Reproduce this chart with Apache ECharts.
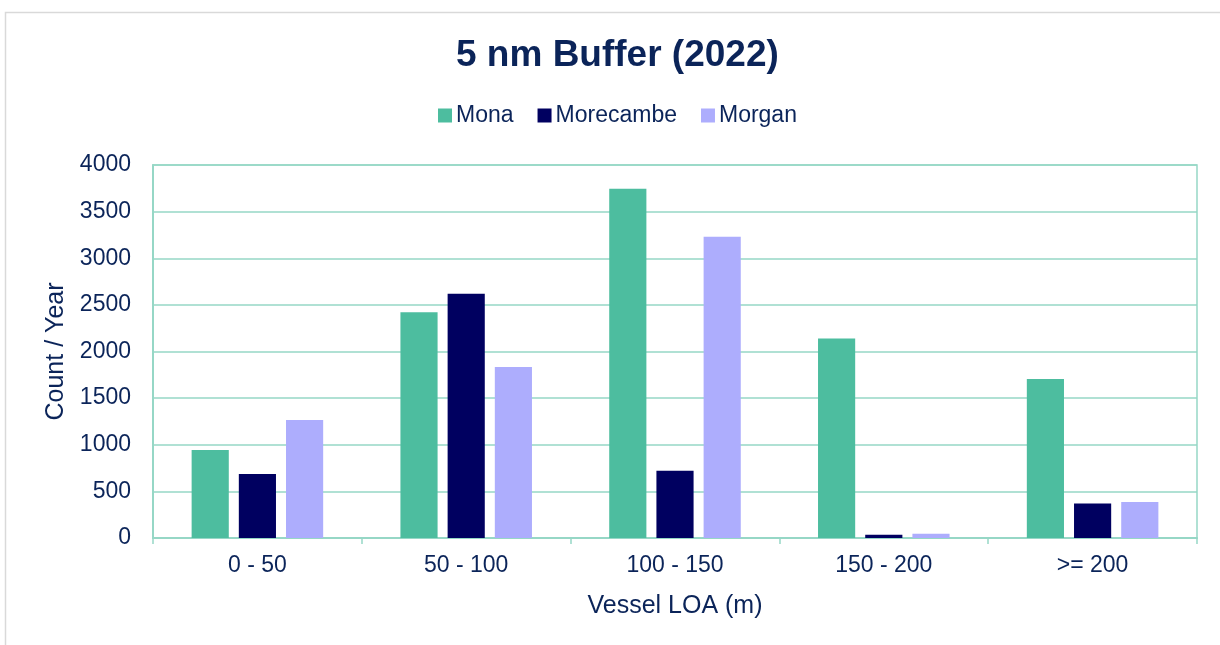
<!DOCTYPE html>
<html>
<head>
<meta charset="utf-8">
<title>5 nm Buffer (2022)</title>
<script src="https://cdn.jsdelivr.net/npm/echarts@6/dist/echarts.min.js"></script>
<style>
  html, body { margin: 0; padding: 0; background: #fff; }
  #chart { width: 1220px; height: 645px; }
</style>
</head>
<body>
<div id="chart"></div>
<script>
const categories = ['0 - 50', '50 - 100', '100 - 150', '150 - 200', '>= 200']
const mona = [945, 2420, 3745, 2140, 1705]
const morecambe = [685, 2620, 720, 35, 370]
const morgan = [1265, 1835, 3230, 45, 385]
const yTicks = { min: 0, max: 4000, step: 500 }

const textColor = '#0b2459'
const gridColor = '#96d7c6'
const font = '"Liberation Sans", Arial, sans-serif'

const chart = echarts.init(document.getElementById('chart'))

const chartOptions = {
  animation: false,
  color: ['#4dbd9f', '#000060', '#adadfd'],
  textStyle: { fontFamily: font, color: textColor },
  // thin outer frame like the exported picture
  graphic: [{
    type: 'rect',
    left: 3,
    top: 10,
    shape: { width: 1240, height: 660 },
    style: { fill: 'none', stroke: '#d9d9d9', lineWidth: 1.5 },
    silent: true,
  }],
  title: {
    text: '5 nm Buffer (2022)',
    left: 451,
    top: 32,
    textStyle: { fontSize: 37, fontWeight: 'bold', color: textColor, fontFamily: font },
  },
  legend: {
    top: 99,
    left: 433,
    itemWidth: 14,
    itemHeight: 14,
    itemGap: 24,
    icon: 'rect',
    textStyle: { fontSize: 23, color: textColor, fontFamily: font, padding: [0, 0, 0, -1] },
  },
  grid: {
    left: 153,
    right: 23,
    top: 165,
    bottom: 107,
    show: true,
    borderColor: gridColor,
    borderWidth: 1.5,
  },
  xAxis: {
    type: 'category',
    data: categories,
    name: 'Vessel LOA (m)',
    nameLocation: 'middle',
    nameGap: 56,
    nameTextStyle: { fontSize: 25, color: textColor },
    axisLine: { lineStyle: { color: gridColor, width: 2 } },
    axisTick: { show: true, length: 6, lineStyle: { color: gridColor, width: 1.5 } },
    axisLabel: { fontSize: 23, color: textColor, margin: 16 },
  },
  yAxis: {
    type: 'value',
    min: yTicks.min,
    max: yTicks.max,
    interval: yTicks.step,
    name: 'Count / Year',
    nameLocation: 'middle',
    nameGap: 82,
    nameTextStyle: { fontSize: 25, color: textColor },
    axisLine: { show: true, lineStyle: { color: gridColor, width: 2 } },
    axisTick: { show: false },
    axisLabel: { fontSize: 23, color: textColor, margin: 22, formatter: (v) => String(v) },
    splitLine: { show: true, lineStyle: { color: gridColor, width: 1.5 } },
  },
  series: [
    { name: 'Mona', type: 'bar', data: mona, barGap: '27%', barCategoryGap: '37%' },
    { name: 'Morecambe', type: 'bar', data: morecambe },
    { name: 'Morgan', type: 'bar', data: morgan },
  ],
}

chart.setOption(chartOptions)
</script>
</body>
</html>
